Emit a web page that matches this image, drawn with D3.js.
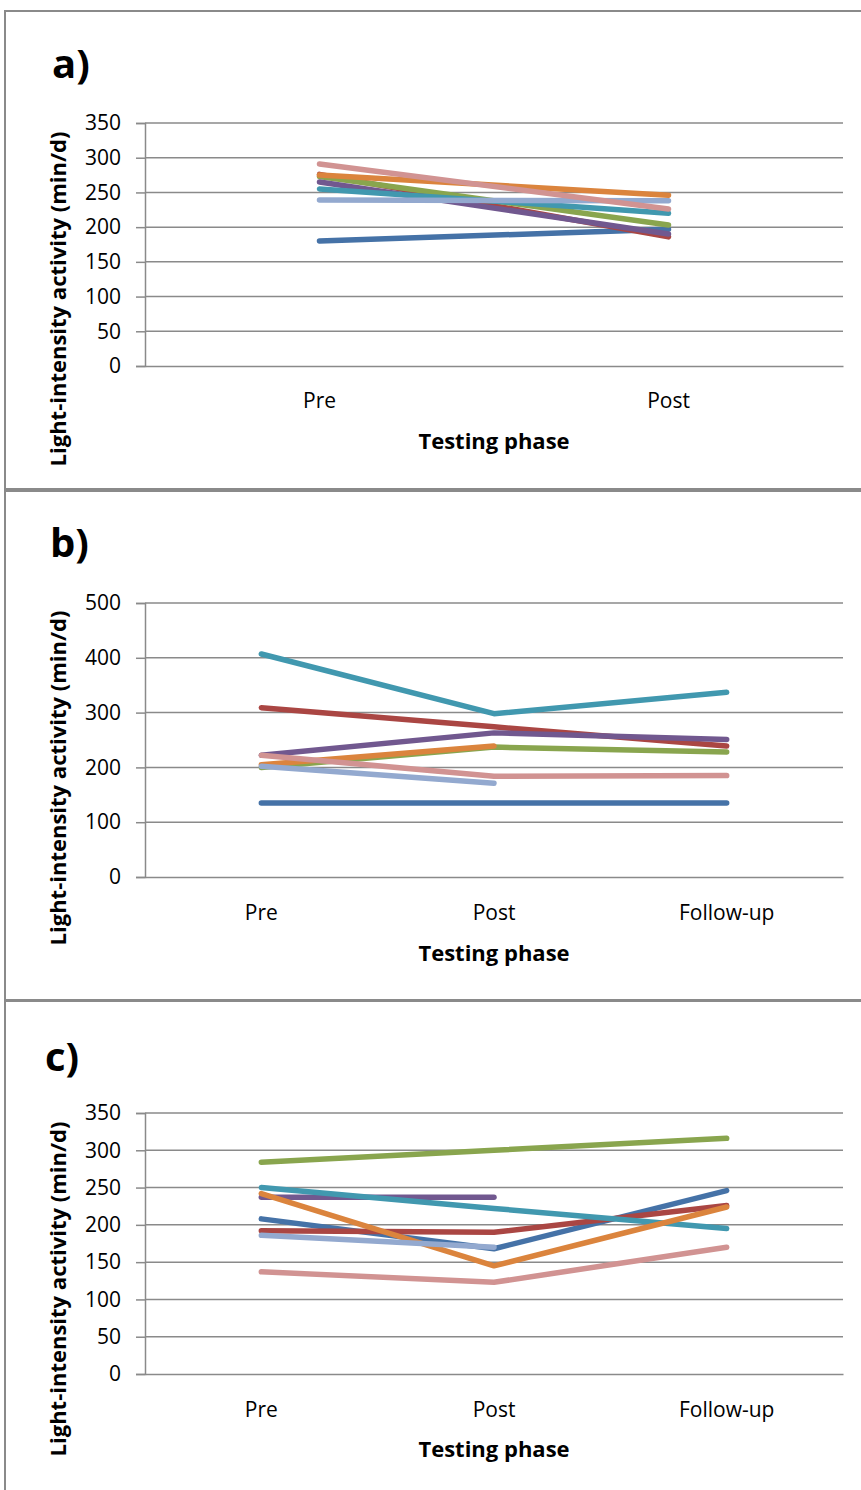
<!DOCTYPE html>
<html>
<head>
<meta charset="utf-8">
<script src="https://cdn.jsdelivr.net/npm/d3@7"></script>
<style>
  html, body { margin: 0; padding: 0; background: #fff; }
  svg { display: block; }
  text { font-family: "Open Sans", "Liberation Sans", sans-serif; fill: #000; }
</style>
</head>
<body>
<svg id="chart" width="861" height="1490"></svg>
<script>
// ---- data ----
const categoriesA = ["Pre", "Post"];
const categoriesBC = ["Pre", "Post", "Follow-up"];
const seriesNames = ["S1", "S2", "S3", "S4", "S5", "S6", "S7", "S8"];
const ticksA = [0, 50, 100, 150, 200, 250, 300, 350];
const ticksB = [0, 100, 200, 300, 400, 500];
const ticksC = [0, 50, 100, 150, 200, 250, 300, 350];

// panel a (Pre, Post)
const a_S1 = [180, 197];
const a_S2 = [276, 186];
const a_S3 = [273, 203];
const a_S4 = [265, 190];
const a_S5 = [255, 220];
const a_S6 = [275, 246];
const a_S7 = [239, 238];
const a_S8 = [291, 226];

// panel b (Pre, Post, Follow-up)
const b_S1 = [135, 135, 135];
const b_S2 = [309, 274, 239];
const b_S3 = [200, 237, 228];
const b_S4 = [222, 263, 251];
const b_S5 = [407, 298, 337];
const b_S6 = [205, 239, null];
const b_S7 = [202, 171, null];
const b_S8 = [222, 184, 185];

// panel c (Pre, Post, Follow-up)
const c_S1 = [208, 168, 246];
const c_S2 = [192, 190, 226];
const c_S3 = [284, 300, 316];
const c_S4 = [237, 237, null];
const c_S5 = [250, 222, 195];
const c_S6 = [242, 145, 224];
const c_S7 = [186, 170, null];
const c_S8 = [137, 123, 170];

const palette = ["#4572A7", "#AA4643", "#89A54E", "#71588F", "#4198AF", "#DB843D", "#93A9CF", "#D19392"];

const svg = d3.select("#chart");

// panel frames
const frames = [
  {y0: 11, y1: 489},
  {y0: 491, y1: 1000},
  {y0: 1001, y1: 1600}
];
frames.forEach(f => {
  svg.append("rect")
    .attr("x", 5).attr("y", f.y0)
    .attr("width", 900).attr("height", f.y1 - f.y0)
    .attr("fill", "none").attr("stroke", "#8a8a8a").attr("stroke-width", 2);
});

function drawPanel(cfg) {
  const g = svg.append("g");
  const x = d3.scaleBand().domain(cfg.categories).range([cfg.left, cfg.right]);
  const y = d3.scaleLinear().domain([0, cfg.max]).range([cfg.bottom, cfg.top]);

  // gridlines
  g.append("g").selectAll("line").data(cfg.ticks.slice(1)).join("line")
    .attr("x1", cfg.left).attr("x2", cfg.right)
    .attr("y1", d => y(d)).attr("y2", d => y(d))
    .attr("stroke", "#8a8a8a").attr("stroke-width", 1.5);

  // y axis
  const yAxis = g.append("g")
    .attr("transform", `translate(${cfg.left},0)`)
    .call(d3.axisLeft(y).tickValues(cfg.ticks).tickSize(9).tickPadding(15).tickFormat(d3.format("d")));
  yAxis.select(".domain").attr("stroke", "#8a8a8a").attr("stroke-width", 1.5);
  yAxis.selectAll(".tick line").attr("stroke", "#8a8a8a").attr("stroke-width", 1.5);
  yAxis.selectAll(".tick text").attr("font-size", 21).attr("font-family", "Open Sans").attr("fill", "#000");

  // x axis
  const xAxis = g.append("g")
    .attr("transform", `translate(0,${cfg.bottom})`)
    .call(d3.axisBottom(x).tickSize(0).tickPadding(cfg.xPad));
  xAxis.select(".domain").attr("stroke", "#8a8a8a").attr("stroke-width", 1.5);
  xAxis.selectAll(".tick text").attr("font-size", 21).attr("font-family", "Open Sans").attr("fill", "#000");

  // lines
  const line = d3.line()
    .defined(d => d.v !== null)
    .x(d => x(d.c) + x.bandwidth() / 2)
    .y(d => y(d.v));
  cfg.series.forEach((vals, i) => {
    const pts = vals.map((v, j) => ({c: cfg.categories[j], v: v}));
    g.append("path")
      .datum(pts)
      .attr("d", line)
      .attr("fill", "none")
      .attr("stroke", palette[i])
      .attr("stroke-width", 5.5)
      .attr("stroke-linecap", "round")
      .attr("stroke-linejoin", "round");
  });

  // x title
  g.append("text")
    .attr("x", 494).attr("y", cfg.xTitleY)
    .attr("text-anchor", "middle")
    .attr("font-weight", "bold").attr("font-size", 22)
    .text("Testing phase");

  // y title
  g.append("text")
    .attr("transform", `translate(66,${cfg.yTitleC}) rotate(-90)`)
    .attr("text-anchor", "middle")
    .attr("font-weight", "bold").attr("font-size", 22)
    .text("Light-intensity activity (min/d)");

  // panel label
  g.append("text")
    .attr("x", cfg.labelX).attr("y", cfg.labelY)
    .attr("font-weight", "bold").attr("font-size", 40)
    .text(cfg.label);
}

drawPanel({
  categories: categoriesA, ticks: ticksA, max: 350,
  series: [a_S1, a_S2, a_S3, a_S4, a_S5, a_S6, a_S7, a_S8],
  left: 145, right: 843, top: 123, bottom: 366,
  xPad: 27, xTitleY: 449, yTitleC: 299,
  label: "a)", labelX: 52, labelY: 78
});

drawPanel({
  categories: categoriesBC, ticks: ticksB, max: 500,
  series: [b_S1, b_S2, b_S3, b_S4, b_S5, b_S6, b_S7, b_S8],
  left: 145, right: 843, top: 603, bottom: 877,
  xPad: 28, xTitleY: 961, yTitleC: 778,
  label: "b)", labelX: 50, labelY: 557
});

drawPanel({
  categories: categoriesBC, ticks: ticksC, max: 350,
  series: [c_S1, c_S2, c_S3, c_S4, c_S5, c_S6, c_S7, c_S8],
  left: 145, right: 843, top: 1113, bottom: 1374,
  xPad: 28, xTitleY: 1457, yTitleC: 1289,
  label: "c)", labelX: 45, labelY: 1071
});
</script>
</body>
</html>
